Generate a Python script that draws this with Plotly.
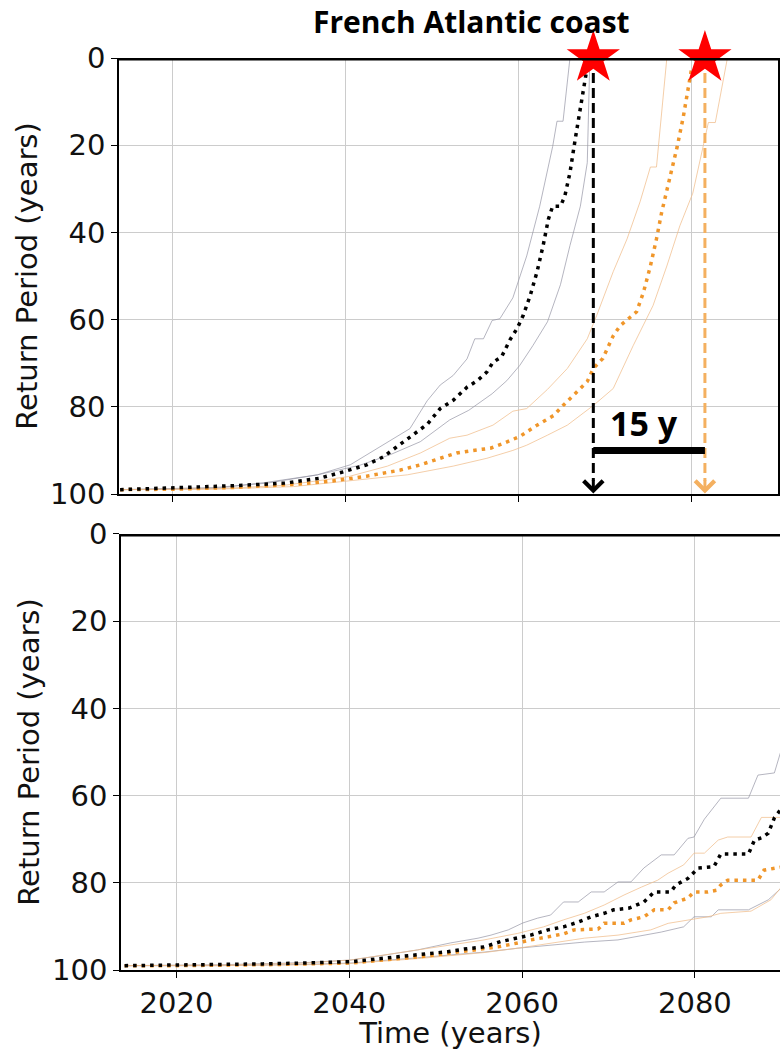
import plotly.graph_objects as go

# ---------------- data ----------------
# Upper panel: return period of the reference extreme level (years) vs time
top_black_mid_t = [2014, 2020, 2027, 2033, 2037, 2040, 2042.5, 2044.4, 2046.4, 2048, 2049.5, 2051, 2052.5,
                   2054.1, 2055.3, 2056.4, 2057.1, 2058.1, 2059.1, 2059.9, 2060.6, 2061.4, 2062.2, 2062.9,
                   2063.5, 2064, 2064.9, 2065.4, 2066, 2066.6, 2067.2, 2067.6, 2068.0]
top_black_mid_v = [99, 98.6, 98.1, 97.5, 96.4, 94.8, 93.3, 91.5, 88.6, 86.3, 84, 80.4, 78.5,
                   75.5, 74, 72, 69.8, 68.5, 64.5, 62, 59, 54.5, 49, 43,
                   37, 34, 34, 31.7, 26.3, 18.7, 11.9, 6.5, 2.0]
top_black_hi_t = [2014, 2025, 2031, 2036.8, 2040.6, 2044.4, 2047.5, 2049.5, 2051, 2052.5, 2054.1, 2055,
                  2056, 2057, 2057.9, 2059.4, 2061, 2062.5, 2064, 2064.5, 2065.2, 2066]
top_black_hi_v = [99, 98.5, 97.5, 95.6, 93.3, 88.8, 85, 78.6, 75, 72.8, 69, 64.4,
                  64.4, 60.2, 59.8, 55, 45.4, 34, 20.3, 14.5, 14.5, 0]
top_black_lo_t = [2014, 2025, 2031, 2036.8, 2041.7, 2045.2, 2048.7, 2052.1, 2054.3, 2057, 2058.7,
                  2060.2, 2061.7, 2063.4, 2064.9, 2066, 2067.2, 2068, 2068.3]
top_black_lo_v = [99, 98.7, 97.3, 95.6, 93.4, 91, 88, 83, 80.8, 77, 74,
                  70.5, 66, 60.5, 52, 43, 34, 24, 0]

top_orange_mid_t = [2014, 2020, 2027, 2034.8, 2038.6, 2042.5, 2046.4, 2048.7, 2051, 2052.9, 2054.8, 2056.8,
                    2058.3, 2060.2, 2062.2, 2064.1, 2065.2, 2066.4, 2068, 2068.7, 2069.8, 2071, 2071.8,
                    2073, 2073.7, 2074.5, 2075.3, 2076, 2076.6, 2077.6, 2078.4, 2079.1, 2079.7, 2080.1]
top_orange_mid_v = [99, 98.9, 98.5, 97.7, 97, 95.9, 94.5, 93.3, 91.8, 90.6, 90, 89.5,
                    88.4, 86.8, 84.2, 82, 79.7, 77.4, 74.2, 71.2, 68.9, 63.7, 61.4,
                    59.4, 58.2, 53.7, 47.7, 41.5, 35.4, 27, 20.3, 13.5, 6.6, 2]
top_orange_hi_t = [2014, 2025, 2033, 2040.4, 2044.9, 2048.7, 2052.1, 2054.1, 2057.1, 2059.4, 2061,
                   2063.4, 2065.7, 2068, 2069.1, 2071, 2072.6, 2074.1, 2075.3, 2076, 2077.2]
top_orange_hi_v = [99, 98.8, 98, 96, 93.6, 90.6, 87.2, 86.5, 84.2, 81, 80.4,
                   76, 71.2, 64.4, 59, 49, 41.5, 33, 25, 25, 0]
top_orange_lo_t = [2014, 2025, 2034, 2041.7, 2047.2, 2052.5, 2056.4, 2059.4, 2061, 2063.4, 2065.7,
                   2068.7, 2071, 2073.3, 2075.6, 2077.2, 2078.7, 2080.2, 2082, 2082.8, 2084.2]
top_orange_lo_v = [99, 98.9, 98.3, 96.8, 95.6, 93.6, 91.8, 90, 88.8, 86.5, 84.2,
                   79.7, 75.8, 66, 56.8, 47.7, 38.5, 31, 14.8, 14.8, 0]

# Lower panel
bot_black_mid_t = [2014, 2020, 2030, 2035, 2040.2, 2044, 2047.9, 2051.4, 2053.3, 2055.6, 2057.5, 2059.5,
                   2061, 2063, 2064.8, 2066.5, 2068, 2069.5, 2070.6, 2072.4, 2074.1, 2075.3, 2077.2,
                   2077.8, 2079.2, 2080.4, 2082.2, 2083, 2086.2, 2086.9, 2087.7, 2088.5, 2089.2, 2090]
bot_black_mid_v = [99, 98.9, 98.6, 98.4, 98.1, 97.3, 96.6, 95.8, 95.2, 94.7, 93.5, 92.7,
                   92, 90.8, 90.1, 89, 87.8, 87, 86.2, 85.8, 84.4, 82.1, 82.1,
                   80.5, 79, 76.6, 76.3, 73.4, 73.4, 70.2, 69.7, 68.6, 65.1, 63]
bot_black_hi_t = [2014, 2025, 2035, 2040.2, 2044, 2047.9, 2051.7, 2054.9, 2056.4, 2058.4, 2060.1, 2061.8,
                  2063.3, 2064.8, 2066.5, 2068, 2069.5, 2071.1, 2072.6, 2074.1, 2076.1, 2077.6, 2079.2,
                  2079.9, 2081.1, 2083, 2086.2, 2087.3, 2089.2, 2090]
bot_black_hi_v = [99, 98.8, 98.3, 97.7, 96.6, 95.4, 93.8, 92.7, 92, 90.8, 89.2, 88.1,
                  87.4, 84.4, 84.4, 82.1, 82.1, 79.8, 79.8, 76.6, 73.6, 73.6, 69.8,
                  69.5, 65.4, 60.6, 60.6, 55.3, 54.8, 49.5]
bot_black_lo_t = [2014, 2025, 2035, 2040.2, 2047.9, 2055.6, 2059.5, 2063.3, 2067.2, 2071.1, 2074.1,
                  2076.1, 2078.7, 2079.9, 2081.9, 2082.7, 2086.2, 2088.5, 2090]
bot_black_lo_v = [99, 99, 98.7, 98.4, 97.2, 95.9, 95, 94.3, 93.6, 93.1, 92,
                  91.3, 90.1, 87.8, 87.8, 86.2, 86.2, 83.9, 81.2]

bot_orange_mid_t = [2014, 2020, 2030, 2035, 2040.2, 2044, 2047.9, 2051.7, 2054.9, 2057.2, 2059.5, 2061,
                    2063, 2064.8, 2066, 2068.8, 2069.5, 2071.8, 2072.6, 2074.1, 2075.3, 2076.9, 2077.6,
                    2079.2, 2079.9, 2081.5, 2082.5, 2083, 2083.8, 2087.3, 2088, 2090]
bot_orange_mid_v = [99, 99, 98.8, 98.6, 98.4, 97.7, 97, 96.1, 95.4, 94.7, 93.8, 93.1,
                    92.4, 91.7, 90.8, 90.6, 89.3, 89.3, 88.5, 87.8, 86.2, 86.2, 84.6,
                    83.5, 82.1, 82.1, 81.7, 80.5, 79.4, 79.4, 77.1, 76.4]
bot_orange_hi_t = [2014, 2025, 2035, 2040.2, 2047.9, 2051.7, 2055.6, 2059.5, 2062.5, 2064.8, 2067.2,
                   2069.5, 2071.8, 2073.8, 2075.7, 2076.9, 2078.7, 2079.9, 2081.1, 2082.7, 2083.8,
                   2086.5, 2087.7, 2090]
bot_orange_hi_v = [99, 98.9, 98.4, 97.7, 95.4, 94.3, 93.1, 91.6, 90.1, 88.5, 87,
                   85.1, 82.8, 81, 79.4, 77.8, 75.9, 73.2, 73.2, 70.2, 69.5,
                   69.5, 65, 65]
bot_orange_lo_t = [2014, 2025, 2035, 2040.2, 2047.9, 2055.6, 2059.5, 2063.3, 2067.2, 2071.1, 2074.9,
                   2076.9, 2081.5, 2083, 2086.5, 2088.8, 2090]
bot_orange_lo_v = [99, 99, 98.8, 98.5, 97.4, 96, 95, 93.8, 92.7, 92, 90.8,
                   89.3, 87.8, 87, 86.5, 83.9, 81]

# years at which the two median curves reach a zero return period (upper panel)
crossing_years = [2068.7, 2081.6]
gap_label = "15 y"
gap_level = 90
threshold_rp = 0

title_text = "French Atlantic coast"
y_title = "Return Period (years)"
x_title = "Time (years)"
x_ticks = [2020, 2040, 2060, 2080]
y_ticks = [0, 20, 40, 60, 80, 100]

# ---------------- style ----------------
BLACK = "#000000"
ORANGE = "#f0962a"
GREY_BAND = "rgba(150,150,165,0.7)"
ORANGE_BAND = "rgba(240,190,140,0.75)"
ORANGE_ARROW = "#f4b060"
TICK_FONT = dict(family="DejaVu Sans", size=29, color="#111111")
LABEL_FONT = dict(family="DejaVu Sans", size=29, color="#111111")

fig = go.Figure()


def add_panel(xa, ya, black_mid, black_hi, black_lo, orange_mid, orange_hi, orange_lo):
    for (t, v) in (black_hi, black_lo):
        fig.add_trace(go.Scatter(x=t, y=v, mode="lines", xaxis=xa, yaxis=ya,
                                 line=dict(color=GREY_BAND, width=1), showlegend=False))
    for (t, v) in (orange_hi, orange_lo):
        fig.add_trace(go.Scatter(x=t, y=v, mode="lines", xaxis=xa, yaxis=ya,
                                 line=dict(color=ORANGE_BAND, width=1), showlegend=False))
    fig.add_trace(go.Scatter(x=orange_mid[0], y=orange_mid[1], mode="lines", xaxis=xa, yaxis=ya,
                             line=dict(color=ORANGE, width=3.5, dash="3.5px,5px"), showlegend=False))
    fig.add_trace(go.Scatter(x=black_mid[0], y=black_mid[1], mode="lines", xaxis=xa, yaxis=ya,
                             line=dict(color=BLACK, width=3.5, dash="3.5px,5px"), showlegend=False))


add_panel("x", "y",
          (top_black_mid_t, top_black_mid_v), (top_black_hi_t, top_black_hi_v),
          (top_black_lo_t, top_black_lo_v),
          (top_orange_mid_t, top_orange_mid_v), (top_orange_hi_t, top_orange_hi_v),
          (top_orange_lo_t, top_orange_lo_v))
add_panel("x2", "y2",
          (bot_black_mid_t, bot_black_mid_v), (bot_black_hi_t, bot_black_hi_v),
          (bot_black_lo_t, bot_black_lo_v),
          (bot_orange_mid_t, bot_orange_mid_v), (bot_orange_hi_t, bot_orange_hi_v),
          (bot_orange_lo_t, bot_orange_lo_v))

# dashed drop lines from the zero-crossings
for yr, col in zip(crossing_years, [BLACK, ORANGE_ARROW]):
    fig.add_trace(go.Scatter(x=[yr, yr], y=[threshold_rp, 97], mode="lines", xaxis="x", yaxis="y",
                             line=dict(color=col, width=3, dash="10px,5px"), showlegend=False))
    fig.add_annotation(x=yr, y=99.9, ax=yr, ay=96.5, xref="x", yref="y", axref="x", ayref="y",
                       text="", showarrow=True, arrowhead=4, arrowsize=1.25, arrowwidth=3,
                       arrowcolor=col, standoff=0)

# horizontal gap bar between the two crossings
fig.add_trace(go.Scatter(x=crossing_years, y=[gap_level, gap_level], mode="lines",
                         xaxis="x", yaxis="y", line=dict(color=BLACK, width=7), showlegend=False))
fig.add_annotation(x=sum(crossing_years) / 2 - 0.6, y=gap_level, xref="x", yref="y",
                   text=f"<b>{gap_label}</b>", showarrow=False, yanchor="bottom", yshift=2,
                   font=dict(family="Open Sans", size=34, color=BLACK))

# thick zero line on both panels
for xa, ya in (("x", "y"), ("x2", "y2")):
    fig.add_shape(type="line", xref=f"{xa} domain", yref=ya, x0=0, x1=1,
                  y0=threshold_rp, y1=threshold_rp, line=dict(color=BLACK, width=5), layer="above")

# stars at the crossings
fig.add_trace(go.Scatter(x=crossing_years, y=[threshold_rp, threshold_rp], mode="markers",
                         xaxis="x", yaxis="y", cliponaxis=False,
                         marker=dict(symbol="star", size=40, color="#ff0000", line=dict(width=0)),
                         showlegend=False))

axis_common = dict(showgrid=True, gridcolor="#cccccc", gridwidth=1, zeroline=False,
                   showline=True, linecolor=BLACK, linewidth=1.5, ticks="outside",
                   ticklen=6, tickcolor=BLACK, tickfont=TICK_FONT)

fig.update_layout(
    width=780, height=1050,
    margin=dict(l=119, r=0, t=58, b=80),
    paper_bgcolor="white", plot_bgcolor="white",
    xaxis=dict(domain=[0, 0.997], range=[2013.87, 2090.05], anchor="y", tickvals=x_ticks,
               showticklabels=False, **axis_common),
    yaxis=dict(domain=[0.5219, 1], range=[100, 0], anchor="x", tickvals=y_ticks, mirror=True,
               title=dict(text=y_title, font=LABEL_FONT, standoff=4),
               **axis_common),
    xaxis2=dict(domain=[0.003, 1], range=[2013.58, 2089.85], anchor="y2", tickvals=x_ticks,
                title=dict(text=x_title, font=LABEL_FONT, standoff=0),
                **axis_common),
    yaxis2=dict(domain=[0, 0.4781], range=[100, 0], anchor="x2", tickvals=y_ticks,
                title=dict(text=y_title, font=LABEL_FONT, standoff=4),
                **axis_common),
)

fig.add_annotation(x=0.534, y=1.0395, xref="paper", yref="paper", showarrow=False,
                   yanchor="middle", xanchor="center",
                   text=f"<b>{title_text}</b>", font=dict(family="Open Sans", size=30, color=BLACK))

fig.write_html("out.html")
